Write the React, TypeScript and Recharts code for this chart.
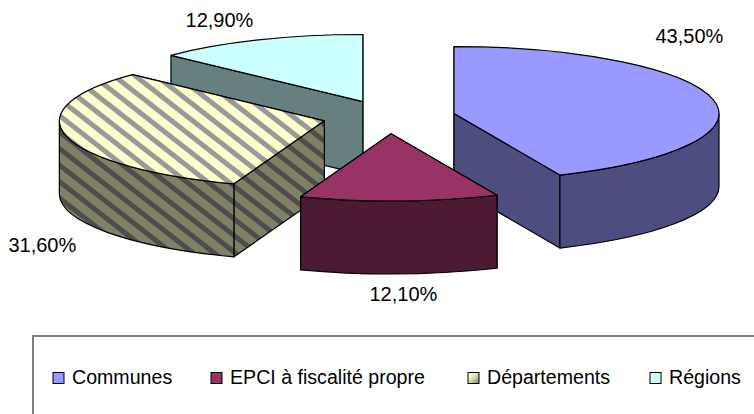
import { PieChart, Pie, Legend } from "recharts";

const categories = ["Communes", "EPCI à fiscalité propre", "Départements", "Régions"];
const shares = [43.5, 12.1, 31.6, 12.9];

const topColors = ["#9999ff", "#993366", "url(#stripesTop)", "#ccffff"];
const sideColors = ["#4d4d80", "#4d1a33", "url(#stripesSide)", "#668080"];
const swatchColors = ["#9999ff", "#993366", "url(#swatchFade)", "#ccffff"];

// painter's order, back slices first
const drawOrder = [3, 2, 0, 1];

const labelOffsets = [
  [-24, -64],
  [4, 93],
  [-24, 109],
  [-39, -20],
];
const legendX = [53, 211, 468, 650];

const FONT = "'Liberation Sans', Arial, sans-serif";
const CX = 389;
const CY = 117;
const RADIUS = 265;
const TILT = 0.253;
const DEPTH = 73;
const EXPLODE = 66.4;

const rad = (deg: number) => (deg * Math.PI) / 180;

// clockwise degrees from 12 o'clock, projected on the tilted ellipse
function rim(ox: number, oy: number, clock: number, drop = 0) {
  return {
    x: ox + RADIUS * Math.sin(rad(clock)),
    y: oy - RADIUS * TILT * Math.cos(rad(clock)) + drop,
  };
}

function arc(to: { x: number; y: number }, sweep: number, spanDeg: number) {
  const ry = RADIUS * TILT;
  return `A${RADIUS} ${ry} 0 ${spanDeg > 180 ? 1 : 0} ${sweep} ${to.x} ${to.y}`;
}

function Slice3D(props: any) {
  const { cx, cy, startAngle, endAngle, midAngle, index } = props;
  const from = 90 - startAngle;
  const to = 90 - endAngle;
  const mid = 90 - midAngle;
  const ox = cx + EXPLODE * Math.sin(rad(mid));
  const oy = cy - EXPLODE * TILT * Math.cos(rad(mid));
  const a = rim(ox, oy, from);
  const b = rim(ox, oy, to);
  const side = sideColors[index];
  const line = { stroke: "#000", strokeWidth: 1.2, strokeLinejoin: "round" as const };

  const wall = (p: { x: number; y: number }) => (
    <path
      d={`M${ox} ${oy}L${p.x} ${p.y}L${p.x} ${p.y + DEPTH}L${ox} ${oy + DEPTH}Z`}
      fill={side}
      {...line}
    />
  );

  // only the front half of the rim shows its wall
  const wallFrom = Math.max(from, 90);
  const wallTo = Math.min(to, 270);
  let outer = null;
  if (wallTo > wallFrom) {
    const p = rim(ox, oy, wallFrom);
    const q = rim(ox, oy, wallTo);
    outer = (
      <path
        d={`M${p.x} ${p.y}${arc(q, 1, wallTo - wallFrom)}L${q.x} ${q.y + DEPTH}${arc(
          { x: p.x, y: p.y + DEPTH },
          0,
          wallTo - wallFrom,
        )}Z`}
        fill={side}
        {...line}
      />
    );
  }

  // the radial wall nearer the viewer goes on top of the other one
  const [back, front] = a.y < b.y ? [a, b] : [b, a];

  return (
    <g>
      {wall(back)}
      {wall(front)}
      {outer}
      <path
        d={`M${ox} ${oy}L${a.x} ${a.y}${arc(b, 1, to - from)}Z`}
        fill={topColors[index]}
        {...line}
      />
    </g>
  );
}

function sliceLabel(props: any) {
  const { cx, cy, midAngle, index, value } = props;
  const mid = 90 - midAngle;
  const ox = cx + EXPLODE * Math.sin(rad(mid));
  const oy = cy - EXPLODE * TILT * Math.cos(rad(mid));
  const p = rim(ox, oy, mid);
  return (
    <text
      key={index}
      x={p.x + labelOffsets[index][0]}
      y={p.y + labelOffsets[index][1]}
      textAnchor="middle"
      dominantBaseline="central"
      fontFamily={FONT}
      fontSize={20}
      fill="#000"
    >
      {value.toFixed(2).replace(".", ",")}%
    </text>
  );
}

function LegendBox() {
  return (
    <svg width={754} height={79} style={{ display: "block" }}>
      <defs>
        <linearGradient id="swatchFade" x1="0" y1="0" x2="1" y2="1">
          <stop offset="0.2" stopColor="#ffffcc" />
          <stop offset="0.55" stopColor="#d5d5a8" />
          <stop offset="1" stopColor="#808066" />
        </linearGradient>
      </defs>
      <path d="M755 1H33V80" fill="none" stroke="#808080" strokeWidth={2} />
      {categories.map((name, i) => (
        <g key={name}>
          <rect
            x={legendX[i]}
            y={37.5}
            width={11}
            height={11}
            fill={swatchColors[i]}
            stroke="#000"
            strokeWidth={1}
          />
          <text x={legendX[i] + 19} y={49} fontFamily={FONT} fontSize={19.6} fill="#000">
            {name}
          </text>
        </g>
      ))}
    </svg>
  );
}

export default function App() {
  const data = categories.map((name, i) => ({ name, value: shares[i] }));
  return (
    <div
      style={{
        position: "absolute",
        left: 0,
        top: 0,
        width: 754,
        height: 414,
        overflow: "hidden",
        background: "#fff",
      }}
    >
      <PieChart width={754} height={414} margin={{ top: 0, right: 0, bottom: 0, left: 0 }}>
        <defs>
          <pattern
            id="stripesTop"
            width={13}
            height={13}
            patternUnits="userSpaceOnUse"
            patternTransform="rotate(38)"
          >
            <rect width={13} height={13} fill="#ffffcc" />
            <rect width={13} height={5} fill="#999999" />
          </pattern>
          <pattern
            id="stripesSide"
            width={13}
            height={13}
            patternUnits="userSpaceOnUse"
            patternTransform="rotate(38)"
          >
            <rect width={13} height={13} fill="#808066" />
            <rect width={13} height={5} fill="#4d4d4d" />
          </pattern>
        </defs>
        {drawOrder.map((slice, layer) => (
          <Pie
            key={slice}
            data={data}
            dataKey="value"
            nameKey="name"
            cx={CX}
            cy={CY}
            outerRadius={RADIUS}
            startAngle={90}
            endAngle={-270}
            stroke="none"
            legendType={layer === 0 ? "rect" : "none"}
            isAnimationActive={false}
            labelLine={false}
            label={layer === drawOrder.length - 1 ? sliceLabel : false}
            shape={(p: any) => (p.index === slice ? <Slice3D {...p} /> : <g />)}
          />
        ))}
        <Legend
          content={<LegendBox />}
          wrapperStyle={{ left: 0, top: 335, width: 754, height: 79 }}
        />
      </PieChart>
    </div>
  );
}
